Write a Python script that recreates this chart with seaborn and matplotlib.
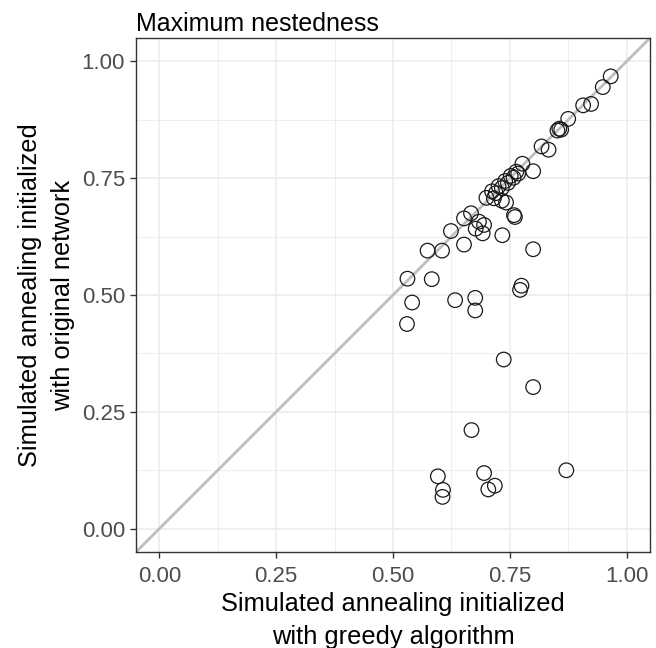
import matplotlib
matplotlib.use("Agg")
import matplotlib.pyplot as plt
import seaborn as sns
import pandas as pd
from matplotlib.ticker import MultipleLocator

# values
greedy = [0.966, 0.949, 0.907, 0.924, 0.875, 0.852, 0.856, 0.860, 0.818, 0.833,
          0.777, 0.800,
          0.712, 0.720, 0.726, 0.733, 0.740, 0.746, 0.752, 0.758, 0.764, 0.768,
          0.700, 0.716, 0.733, 0.742,
          0.759, 0.761, 0.667, 0.652, 0.684, 0.695, 0.677, 0.692, 0.624, 0.734,
          0.652, 0.574, 0.605, 0.800, 0.531, 0.583, 0.541, 0.633, 0.676, 0.676,
          0.775, 0.772, 0.530, 0.737, 0.800, 0.668, 0.596, 0.607, 0.606, 0.695,
          0.718, 0.704, 0.871]
original = [0.968, 0.945, 0.906, 0.909, 0.877, 0.852, 0.856, 0.854, 0.818, 0.811,
            0.781, 0.765,
            0.722, 0.718, 0.733, 0.729, 0.744, 0.740, 0.755, 0.751, 0.764, 0.760,
            0.708, 0.707, 0.702, 0.698,
            0.671, 0.667, 0.675, 0.664, 0.657, 0.650, 0.642, 0.632, 0.637, 0.628,
            0.608, 0.595, 0.595, 0.598, 0.535, 0.534, 0.484, 0.489, 0.494, 0.467,
            0.520, 0.511, 0.438, 0.362, 0.303, 0.211, 0.112, 0.083, 0.068, 0.119,
            0.092, 0.084, 0.125]

ticks = [0.00, 0.25, 0.50, 0.75, 1.00]
tick_labels = ["0.00", "0.25", "0.50", "0.75", "1.00"]

df = pd.DataFrame({"greedy": greedy, "original": original})

sns.set_theme(style="white")
plt.rcParams["font.family"] = ["Liberation Sans", "DejaVu Sans"]

fig = plt.figure(figsize=(6.56, 6.48), dpi=100)
ax = fig.add_axes([0.2073, 0.1481, 0.7835, 0.7932])

# grid like ggplot theme_bw
ax.set_axisbelow(True)
ax.xaxis.set_minor_locator(MultipleLocator(0.125))
ax.yaxis.set_minor_locator(MultipleLocator(0.125))
ax.grid(which="major", color="#EBEBEB", linewidth=1.1)
ax.grid(which="minor", color="#EBEBEB", linewidth=0.6)

ax.plot([-0.05, 1.05], [-0.05, 1.05], color="#BEBEBE", linewidth=2, zorder=2)

sns.scatterplot(data=df, x="greedy", y="original", ax=ax, s=110,
                facecolors="none", edgecolor="#1a1a1a", linewidth=0.9, zorder=3)

ax.set_xlim(-0.05, 1.05)
ax.set_ylim(-0.05, 1.05)
ax.set_xticks(ticks)
ax.set_yticks(ticks)
ax.set_xticklabels(tick_labels)
ax.set_yticklabels(tick_labels)
ax.tick_params(which="major", length=4, width=1, color="#333333",
               labelsize=16, labelcolor="#4D4D4D", bottom=True, left=True)
ax.tick_params(axis="x", pad=6)
ax.tick_params(axis="y", pad=4)
ax.tick_params(which="minor", length=0)

for sp in ax.spines.values():
    sp.set_color("#333333")
    sp.set_linewidth(1)

ax.set_xlabel("Simulated annealing initialized\nwith greedy algorithm",
              fontsize=18.3, color="black", labelpad=4, linespacing=1.45)
ax.set_ylabel("Simulated annealing initialized\nwith original network",
              fontsize=18.3, color="black", labelpad=5, linespacing=1.45)
ax.set_title("Maximum nestedness", loc="left", fontsize=18, color="black", pad=5)

fig.savefig("out.png", dpi=100)
plt.close(fig)
